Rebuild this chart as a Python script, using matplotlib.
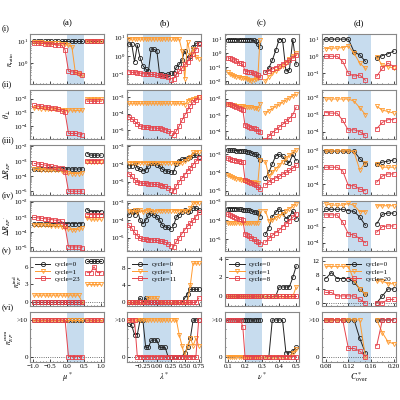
import numpy as np
import matplotlib
matplotlib.use('Agg')
import matplotlib.pyplot as plt
from matplotlib.ticker import MultipleLocator, LogLocator, NullFormatter

plt.rcParams['font.family'] = ['Liberation Serif', 'DejaVu Serif']
plt.rcParams['mathtext.fontset'] = 'stix'

nan = np.nan

# ---------------- x values ----------------
x_a = [-0.95, -0.85, -0.75, -0.65, -0.55, -0.45, -0.35, -0.25, -0.15, -0.05, 0.05, 0.15, 0.25, 0.35, 0.45,
       nan, 0.6, 0.7, 0.8, 0.9, 1.0]
x_b = [-0.5, -0.45, -0.4, -0.35, -0.3, -0.25, -0.2, -0.15, -0.1, -0.05, 0.0, 0.05, 0.1, 0.15, 0.2, 0.25,
       nan, 0.3, 0.35, 0.4, 0.45, 0.5, 0.55, 0.6, 0.65, 0.7, 0.75]
x_c = [0.1, 0.1125, 0.125, 0.1375, 0.15, 0.1625, 0.175, 0.1875, 0.2, 0.2125, 0.225, 0.2375, 0.25, 0.2625, 0.275, 0.2875,
       nan, 0.32, 0.34, 0.36, 0.38, 0.4, 0.42, 0.44, 0.46, 0.48, 0.5]
x_d = [0.08, 0.09, 0.1, 0.11, 0.12, 0.13, 0.14, 0.15, nan, 0.17, 0.18, 0.19, 0.2]

# ---------------- column (a) ----------------
a_i_c0 = [10, 10, 10, 10, 10, 10, 10, 10, 10, 10, 10, 10, 10, 10, 10, nan, 10, 10, 10, 10, 10]
a_i_c1 = [8.5, 8.5, 8.4, 8.3, 8.2, 8, 7.8, 7.6, 7.3, 7, 6.5, 5.5, 0.4, 0.35, 0.3, nan, 10, 10, 10, 10, 10]
a_i_c2 = [8, 7.9, 7.7, 7.5, 7.3, 7, 6.8, 6.5, 6.2, 4, 0.45, 0.42, 0.4, 0.36, 0.3, nan, 10, 10, 10, 10, 10]
a_ii_c0 = [nan] * 21
a_ii_c1 = [2e-3, 2e-3, 1.9e-3, 1.9e-3, 1.8e-3, 1.8e-3, 1.7e-3, 1.7e-3, 1.6e-3, 1.6e-3, 1.5e-3, 1.5e-3, 1.4e-3, 1.4e-3, 1.5e-3,
           nan, 1e-2, 1e-2, 1e-2, 1e-2, 1e-2]
a_ii_c2 = [3.2e-3, 3e-3, 2.8e-3, 2.6e-3, 2.4e-3, 2.2e-3, 2e-3, 1.7e-3, 1.3e-3, 1e-3, 3e-5, 3e-5, 3e-5, 2.8e-5, 2.5e-5,
           nan, 6.5e-3, 6.5e-3, 6.5e-3, 6.5e-3, 6.5e-3]
a_iii_c0 = [3e-4, 3e-4, 3e-4, 3e-4, 3e-4, 3e-4, 3e-4, 3e-4, 3e-4, 3e-4, 3e-4, 3e-4, 3e-4, 3e-4, 3e-4,
            nan, 3.2e-3, 2.5e-3, 2.5e-3, 2.5e-3, 2.5e-3]
a_iii_c1 = [2.8e-4, 2.8e-4, 2.7e-4, 2.7e-4, 2.6e-4, 2.5e-4, 2.5e-4, 2.4e-4, 2.2e-4, 2e-4, 1.6e-4, 1.5e-4, 1.5e-4, 1.5e-4, 1.7e-4,
            nan, 9e-4, 9e-4, 9e-4, 9e-4, 9e-4]
a_iii_c2 = [7e-4, 6.5e-4, 6e-4, 5.5e-4, 5e-4, 4.5e-4, 4e-4, 3.7e-4, 3.3e-4, 2e-4, 1e-5, 1e-5, 1e-5, 1e-5, 1e-5,
            nan, 1.1e-3, 1.1e-3, 1.1e-3, 1.1e-3, 1.1e-3]
a_iv_c0 = [3.5e-4, 3.5e-4, 3.5e-4, 3.5e-4, 3.5e-4, 3.5e-4, 3.5e-4, 3.5e-4, 3.5e-4, 3.5e-4, 3.5e-4, 3.5e-4, 3.5e-4, 3.5e-4, 3.5e-4,
           nan, 3e-3, 2.2e-3, 2.2e-3, 2.2e-3, 2.2e-3]
a_iv_c1 = [3e-4, 3e-4, 2.9e-4, 2.8e-4, 2.7e-4, 2.6e-4, 2.5e-4, 2.4e-4, 2.2e-4, 1.9e-4, 1.5e-4, 1.4e-4, 1.4e-4, 1.5e-4, 1.7e-4,
           nan, 8e-4, 7e-4, 7e-4, 7e-4, 7e-4]
a_iv_c2 = [9e-4, 8.5e-4, 8e-4, 7.5e-4, 7e-4, 6.5e-4, 6e-4, 5.5e-4, 5e-4, 2.3e-4, 1e-5, 1e-5, 1e-5, 1e-5, 9e-6,
           nan, 1.4e-3, 1.4e-3, 1.4e-3, 1.4e-3, 1.4e-3]
a_v_c0 = [0, 0, 0, 0, 0, 0, 0, 0, 0, 0, 0, 0, 0, 0, 0, nan, 7, 7, 7, 7, 7]
a_v_c1 = [1.2, 1.2, 1.2, 1.2, 1.2, 1.2, 1.2, 1.2, 1.2, 1.2, 1.2, 1.2, 1.2, 1.2, 0, nan, 3, 3, 3, 3, 3]
a_v_c2 = [0, 0, 0, 0, 0, 0, 0, 0, 0, 0, 0, 0, 0, 0, 0, nan, 5, 5, 6, 5, 5]
a_vi_c0 = [10, 10, 10, 10, 10, 10, 10, 10, 10, 10, 10, 10, 10, 10, 10, nan, 10, 10, 10, 10, 10]
a_vi_c1 = [10, 10, 10, 10, 10, 10, 10, 10, 10, 10, 10, 10, 10, 10, 10, nan, 10, 10, 10, 10, 10]
a_vi_c2 = [10, 10, 10, 10, 10, 10, 10, 10, 10, 10, 0, 0, 0, 0, 0, nan, 10, 10, 10, 10, 10]

# ---------------- column (b) ----------------
b_i_c0 = [4.5, 4.5, 0.5, 4, 0.8, 0.3, 0.2, 0.15, 2.5, 2.3, 2.0, 0.1, 0.1, 0.09, 0.1, 0.12,
          nan, 0.12, 0.25, 0.35, 0.6, 2.0, 0.8, 1.0, 3.0, 5.0, 5.0]
b_i_c1 = [8.5, 8.5, 8.5, 8.5, 8.5, 8.5, 8.5, 8.5, 8.5, 8.5, 8.5, 8.5, 8.5, 8.5, 8.5, 8.5,
          nan, 8.5, 8.5, 8.5, 2, 0.06, 6, 1.2, 2.5, 0.9, 0.7]
b_i_c2 = [0.14, 0.13, 0.13, 0.12, 0.12, 0.11, 0.11, 0.1, 0.1, 0.1, 0.09, 0.09, 0.08, 0.08, 0.07, 0.05,
          nan, 0.06, 0.1, 0.15, 0.22, 0.35, 0.5, 0.8, 1.3, 2.2, 4.5]
b_ii_c0 = [nan] * 27
b_ii_c1 = [4.3e-4, 4.3e-4, 4.3e-4, 4.3e-4, 4.3e-4, 4.3e-4, 4.3e-4, 4.3e-4, 4.3e-4, 4.3e-4, 4.3e-4, 4.3e-4, 4.3e-4, 4.3e-4, 4.3e-4, 4.3e-4,
           nan, 4.3e-4, 4.3e-4, 4.3e-4, 4.3e-4, 3.5e-4, 6e-4, 7e-4, 8e-4, 9e-4, 1e-3]
b_ii_c2 = [6.5e-5, 5e-5, 3.5e-5, 2.5e-5, 1.8e-5, 1.6e-5, 1.5e-5, 1.5e-5, 1.4e-5, 1.4e-5, 1.3e-5, 1.3e-5, 1.2e-5, 1.1e-5, 9e-6, 7e-6,
           nan, 5e-6, 9e-6, 1.8e-5, 4e-5, 8e-5, 1.6e-4, 3e-4, 5e-4, 7e-4, 1e-3]
b_iii_c0 = [8e-5, 8e-5, 1.2e-4, 6e-5, 5e-5, 4e-5, 4.5e-5, 8e-5, 1.1e-4, 1.1e-4, 9e-5, 8e-5, 5e-5, 4e-5, 4e-5, 3.5e-5,
            nan, 3.5e-5, 1e-4, 1.5e-4, 1.8e-4, 2e-4, 2.2e-4, 2.5e-4, 3e-4, 3e-4, 2.6e-4]
b_iii_c1 = [1.2e-4, 1.2e-4, 1.2e-4, 1.2e-4, 1.2e-4, 1.2e-4, 1.2e-4, 1.2e-4, 1.2e-4, 1.2e-4, 1.2e-4, 1.2e-4, 1.2e-4, 1.2e-4, 1.2e-4, 1.2e-4,
            nan, 1.2e-4, 1.2e-4, 1.2e-4, 1.2e-4, 1.5e-4, 2e-4, 2.5e-4, 4.5e-4, 5e-4, 5e-4]
b_iii_c2 = [2.8e-5, 2e-5, 1.3e-5, 1e-5, 8.5e-6, 8e-6, 8e-6, 7.5e-6, 7.5e-6, 7e-6, 7e-6, 6.5e-6, 6e-6, 5.5e-6, 4.5e-6, 3.5e-6,
            nan, 3e-6, 6e-6, 1e-5, 1.6e-5, 2.5e-5, 4e-5, 6e-5, 9e-5, 1.4e-4, 2.2e-4]
b_iv_c0 = [2e-4, 3.5e-4, 2e-4, 4e-4, 1e-4, 6e-5, 1e-4, 2e-4, 2.5e-4, 2e-4, 1.5e-4, 1e-4, 5e-5, 4e-5, 4e-5, 3e-5,
           nan, 5e-5, 1.5e-4, 2e-4, 3e-4, 4e-4, 3e-4, 3.5e-4, 5e-4, 5e-4, 4e-4]
b_iv_c1 = [3.5e-4, 3e-4, 4e-4, 3e-4, 4e-4, 3e-4, 3.5e-4, 4e-4, 3.5e-4, 3e-4, 3.5e-4, 3.5e-4, 3.5e-4, 3.5e-4, 3.5e-4, 3.5e-4,
           nan, 3.5e-4, 3.5e-4, 3.5e-4, 3.5e-4, 3.5e-4, 3.5e-4, 5e-4, 1e-3, 1e-3, 1e-3]
b_iv_c2 = [5e-5, 3.5e-5, 2e-5, 1.3e-5, 9e-6, 8e-6, 8e-6, 7.5e-6, 7.5e-6, 7e-6, 7e-6, 6.5e-6, 6e-6, 5.5e-6, 4.5e-6, 3.5e-6,
           nan, 3e-6, 6e-6, 1e-5, 1.7e-5, 2.8e-5, 4.5e-5, 7e-5, 1e-4, 1.6e-4, 3e-4]
b_v_c0 = [0, 0, 0, 0, 1, 0, 1, 0, 0, 0, 0, 0, 0, 0, 0, 0, nan, 0, 0, 0, 0, 1, 2, 3, 3, 3, 3]
b_v_c1 = [0, 0, 0, 0, 0, 0, 0, 1, 1, 1, 1, 0, 0, 0, 0, 0, nan, 0, 0, 0, 0, 0, 0, 4, 9, 9, 9]
b_v_c2 = [0, 0, 0, 0, 0, 0, 0, 0, 0, 0, 0, 0, 0, 0, 0, 0, nan, 0, 0, 0, 0, 0, 0, 0, 0, 0, 1]
b_vi_c0 = [9, 8.5, 6, 6, 10, 10, 2.5, 2.5, 4.5, 4.5, 4.5, 2.5, 2.5, 2.5, 0, 0,
           nan, 0, 0, 0, 0, 1, 2.5, 5, 10, 10, 10]
b_vi_c1 = [10, 10, 10, 10, 10, 10, 10, 10, 10, 10, 10, 10, 10, 10, 10, 10,
           nan, 10, 10, 6, 3, 0, 3, 5, 3, 5, 3]
b_vi_c2 = [10, 10, 10, 0, 0, 0, 0, 0, 0, 0, 0, 0, 0, 0, 0, 0, nan, 0, 0, 0, 0, 0, 0, 0, 0, 0, 10]

# ---------------- column (c) ----------------
c_i_c0 = [9, 9, 9, 9, 9, 9, 9, 9, 9, 9, 9, 8.5, 8, 7, 4.5, 2.5,
          nan, 0.04, 0.085, 0.3, 1.5, 9, 9, 0.05, 0.06, 9, 0.15]
c_i_c1 = [0.04, 0.03, 0.025, 0.022, 0.02, 0.018, 0.017, 0.016, 0.015, 0.014, 0.012, 0.01, 0.012, 0.014, 0.015, 8,
          nan, 0.01, 0.02, 0.035, 0.05, 0.08, 0.12, 0.2, 0.35, 0.6, 1.0]
c_i_c2 = [0.45, 0.4, 0.35, 0.3, 0.25, 0.2, 0.18, 0.15, 0.05, 0.045, 0.045, 0.04, 0.035, 0.03, 0.025, 0.018,
          nan, 0.04, 0.05, 0.07, 0.09, 0.12, 0.17, 0.22, 0.3, 0.45, 0.7]
c_ii_c0 = [nan] * 27
c_ii_c1 = [4.5e-3, 4.3e-3, 4e-3, 3.8e-3, 3.6e-3, 3.5e-3, 3.4e-3, 3.3e-3, 3.2e-3, 3.1e-3, 3e-3, 3e-3, 2.8e-3, 2.6e-3, 2.4e-3, 5e-3,
           nan, 1.3e-3, 1.8e-3, 2.5e-3, 3.3e-3, 4.5e-3, 6e-3, 8e-3, 1.1e-2, 1.5e-2, 1.8e-2]
c_ii_c2 = [5e-3, 4.5e-3, 4e-3, 3.5e-3, 3e-3, 2.6e-3, 2.3e-3, 2e-3, 2.3e-4, 2e-4, 1.8e-4, 1.6e-4, 1.5e-4, 1.3e-4, 1.1e-4, 9e-5,
           nan, 3e-5, 5e-5, 8e-5, 1.2e-4, 1.8e-4, 2.6e-4, 4e-4, 6e-4, 1e-3, 3e-3]
c_iii_c0 = [1.7e-3, 1.7e-3, 1.7e-3, 1.7e-3, 1.6e-3, 1.6e-3, 1.6e-3, 1.5e-3, 1.5e-3, 1.4e-3, 1.3e-3, 1.2e-3, 1.1e-3, 1e-3, 8e-4, 5e-4,
            nan, 5e-5, 1e-4, 3e-4, 8e-4, 1e-3, 8e-4, 4e-4, 3.5e-4, 1e-3, 4.5e-4]
c_iii_c1 = [7e-5, 6e-5, 5.5e-5, 5e-5, 4.5e-5, 4.2e-5, 4e-5, 3.8e-5, 3.5e-5, 3.3e-5, 3.1e-5, 3e-5, 2.8e-5, 2.7e-5, 2.5e-5, 5e-4,
            nan, 4e-4, 6e-5, 1e-4, 1.6e-4, 2.5e-4, 4e-4, 6e-4, 9e-4, 1.3e-3, 1.8e-3]
c_iii_c2 = [6e-4, 5.5e-4, 5e-4, 4.8e-4, 4.5e-4, 4.2e-4, 4e-4, 3.8e-4, 4e-5, 3.5e-5, 3e-5, 2.6e-5, 2.2e-5, 1.9e-5, 1.5e-5, 1.2e-5,
            nan, 2e-5, 3e-5, 4e-5, 5e-5, 6e-5, 8e-5, 1e-4, 1.3e-4, 1.7e-4, 2.5e-4]
c_iv_c0 = [4e-4, 4e-4, 4e-4, 4e-4, 4e-4, 3.8e-4, 3.7e-4, 3.5e-4, 3.4e-4, 3.3e-4, 3.2e-4, 3e-4, 2.8e-4, 2.6e-4, 2.3e-4, 1.5e-4,
           nan, 1.8e-5, 4e-5, 1.5e-4, 2.5e-4, 4e-4, 2.5e-4, 1.2e-4, 1.5e-4, 3e-4, 1.2e-4]
c_iv_c1 = [7e-5, 7e-5, 7e-5, 7e-5, 7e-5, 7e-5, 7e-5, 7e-5, 7e-5, 7e-5, 7e-5, 7e-5, 7e-5, 7e-5, 7e-5, 3e-4,
           nan, 3e-4, 9e-5, 1e-4, 1.3e-4, 1.7e-4, 2.2e-4, 3e-4, 4e-4, 5.5e-4, 7e-4]
c_iv_c2 = [2e-4, 1.8e-4, 1.6e-4, 1.5e-4, 1.3e-4, 1.2e-4, 1.1e-4, 1e-4, 1.8e-5, 1.6e-5, 1.4e-5, 1.2e-5, 1e-5, 8e-6, 7e-6, 5.6e-6,
           nan, 7e-6, 1.1e-5, 1.6e-5, 2.2e-5, 3e-5, 4.5e-5, 6.5e-5, 9e-5, 1.4e-4, 2.2e-4]
c_v_c0 = [0, 0, 0, 0, 0, 0, 0, 0, 0, 0, 0, 0, 0, 0, 0, 0, nan, 0, 0, 0, 0, 1, 1, 1, 1, 2, 3.2]
c_v_c1 = [0, 0, 0, 0, 0, 0, 0, 0, 0, 0, 0, 0, 0, 0, 0, 0, nan, 0, 0, 0, 0, 0, 0, 0, 0, 0, 1]
c_v_c2 = [0, 0, 0, 0, 0, 0, 0, 0, 0, 0, 0, 0, 0, 0, 0, 0, nan, 0, 0, 0, 0, 0, 0, 0, 0, 0, 0]
c_vi_c0 = [10, 10, 10, 10, 10, 10, 10, 10, 10, 10, 10, 10, 10, 10, 10, 10, nan, 0, 0, 10, 10, 10, 10, 1, 1, 1.5, 2.5]
c_vi_c1 = [0, 0, 0, 0, 0, 0, 0, 0, 0, 0, 0, 0, 0, 0, 0, 0, nan, 0, 0, 0, 0, 0, 0, 0, 0, 1, 2]
c_vi_c2 = [10, 10, 10, 10, 10, 10, 10, 8, 0, 0, 0, 0, 0, 0, 0, 0, nan, 0, 0, 0, 0, 0, 0, 0, 0, 0, 0]

# ---------------- column (d) ----------------
d_i_c0 = [10, 10, 10, 10, 10, 1.8, 1.2, 0.5, nan, 0.8, 1.1, 1.4, 2]
d_i_c1 = [2.8, 3, 3, 3.2, 4, 1.5, 0.4, 0.2, nan, 0.9, 0.3, 0.25, 0.2]
d_i_c2 = [1, 1, 1, 0.5, 0.1, 0.07, 0.08, 0.04, nan, 0.07, 0.2, 0.4, 0.25]
d_ii_c0 = [nan] * 13
d_ii_c1 = [8e-3, 8e-3, 8e-3, 8e-3, 8e-3, 6e-3, 2.5e-3, 1e-3, nan, 3e-3, 1.8e-3, 1.5e-3, 1.2e-3]
d_ii_c2 = [1.3e-3, 1.2e-3, 1.2e-3, 4.5e-4, 1.2e-4, 1.3e-4, 1e-4, 6e-5, nan, 1.5e-4, 3.5e-4, 5e-4, 5e-4]
d_iii_c0 = [9e-3, 9e-3, 9e-3, 9e-3, 9e-3, 9e-3, 3.2e-3, 1.6e-3, nan, 1.6e-3, 2e-3, 2.3e-3, 2.7e-3]
d_iii_c1 = [9e-3, 9e-3, 9e-3, 9e-3, 9.5e-3, 8e-3, 7e-4, 1.8e-3, nan, 1.5e-3, 1e-3, 1e-3, 1e-3]
d_iii_c2 = [1e-3, 1e-3, 1e-3, 6e-4, 8e-5, 8e-5, 5e-5, 4e-5, nan, 1.3e-4, 3e-4, 4e-4, 4e-4]
d_iv_c0 = [1.2e-2, 1.2e-2, 1.2e-2, 1.2e-2, 1e-2, 9e-3, 4e-3, 1.2e-3, nan, 1.5e-3, 6e-3, 7e-3, 7e-3]
d_iv_c1 = [2.6e-2, 2.2e-2, 2.2e-2, 2.2e-2, 2.8e-2, 2.1e-2, 8.7e-3, 8.7e-3, nan, 2e-2, 2e-2, 2e-2, 2e-2]
d_iv_c2 = [5.4e-3, 5.4e-3, 5.4e-3, 1.9e-3, 3.5e-4, 3e-4, 1.8e-4, 1e-4, nan, 4.5e-4, 1e-3, 1.1e-3, 1.1e-3]
d_v_c0 = [7, 8.7, 7, 7, 7, 6, 4, 2.5, nan, 0, 2, 4, 4]
d_v_c1 = [10.5, 10.5, 10.5, 10.5, 10.5, 6.5, 4, 2.5, nan, 6.3, 6.3, 5.5, 5.5]
d_v_c2 = [3, 3, 2, 2, 2, 2, 1, 0, nan, 0, 0, 1, 1]
d_vi_c0 = [10, 10, 10, 10, 10, 10, 5, 1, nan, 10, 10, 10, 10]
d_vi_c1 = [10, 10, 10, 10, 10, 10, 10, 0, nan, 10, 6.5, 4, 3.5]
d_vi_c2 = [10, 10, 10, 10, 2.2, 2.2, 1.5, 0, nan, 3, 10, 10, 10]

# ---------------- text ----------------
col_titles = ['(a)', '(b)', '(c)', '(d)']
row_labels = ['(i)', '(ii)', '(iii)', '(iv)', '(v)', '(vi)']
y_labels = [r'$n_{\rm ratio}$', r'$\theta_{\perp}$', r'$\Delta R_{EP}$', r"$\Delta R_{EP'}$",
            r'$n_{EP}^{\rm ind}$', r'$n_{EP}^{\rm cum}$']
x_labels = [r'$\mu^*$', r'$\lambda^*$', r'$\nu^*$', r'$C^*_{\rm over}$']
legend_cycles = [['cycle=0', 'cycle=1', 'cycle=23'],
                 ['cycle=0', 'cycle=1', 'cycle=11'],
                 ['cycle=0', 'cycle=1', 'cycle=8'],
                 ['cycle=0', 'cycle=1', 'cycle=20']]

xs = [x_a, x_b, x_c, x_d]
data = {
    0: [[a_i_c0, a_i_c1, a_i_c2], [b_i_c0, b_i_c1, b_i_c2], [c_i_c0, c_i_c1, c_i_c2], [d_i_c0, d_i_c1, d_i_c2]],
    1: [[a_ii_c0, a_ii_c1, a_ii_c2], [b_ii_c0, b_ii_c1, b_ii_c2], [c_ii_c0, c_ii_c1, c_ii_c2], [d_ii_c0, d_ii_c1, d_ii_c2]],
    2: [[a_iii_c0, a_iii_c1, a_iii_c2], [b_iii_c0, b_iii_c1, b_iii_c2], [c_iii_c0, c_iii_c1, c_iii_c2], [d_iii_c0, d_iii_c1, d_iii_c2]],
    3: [[a_iv_c0, a_iv_c1, a_iv_c2], [b_iv_c0, b_iv_c1, b_iv_c2], [c_iv_c0, c_iv_c1, c_iv_c2], [d_iv_c0, d_iv_c1, d_iv_c2]],
    4: [[a_v_c0, a_v_c1, a_v_c2], [b_v_c0, b_v_c1, b_v_c2], [c_v_c0, c_v_c1, c_v_c2], [d_v_c0, d_v_c1, d_v_c2]],
    5: [[a_vi_c0, a_vi_c1, a_vi_c2], [b_vi_c0, b_vi_c1, b_vi_c2], [c_vi_c0, c_vi_c1, c_vi_c2], [d_vi_c0, d_vi_c1, d_vi_c2]],
}

# ---------------- styling ----------------
colors = ['#222222', '#ff9b30', '#e5434c']
markers = ['o', 'v', 's']
shade = [(0.0, 0.5), (-0.25, 0.25), (0.2, 0.3), (0.12, 0.16)]
xlims = [(-1.08, 1.1), (-0.53, 0.8), (0.08, 0.515), (0.073, 0.204)]
xticks = [[-1.0, -0.5, 0.0, 0.5, 1.0], [-0.25, 0.0, 0.25, 0.5, 0.75], [0.1, 0.2, 0.3, 0.4, 0.5], [0.08, 0.12, 0.16, 0.20]]
xticklabels = [['−1.0', '−0.5', '0.0', '0.5', '1.0'], ['−0.25', '0.00', '0.25', '0.50', '0.75'],
               ['0.1', '0.2', '0.3', '0.4', '0.5'], ['0.08', '0.12', '0.16', '0.20']]
xminor = [0.1, 0.05, 0.02, 0.01]

log_ylims = {
    0: [(10**-0.9, 10**1.3), (10**-1.5, 10**1.2), (10**-2.2, 10**1.35), (10**-1.6, 10**1.3)],
    1: [(10**-4.95, 10**-1.35), (10**-5.55, 10**-2.55), (10**-4.5, 10**-1.45), (10**-4.45, 10**-1.55)],
    2: [(10**-5.25, 10**-1.95), (10**-5.75, 10**-2.95), (10**-5.25, 10**-2.5), (10**-4.65, 10**-1.7)],
    3: [(10**-5.25, 10**-1.95), (10**-5.75, 10**-2.9), (10**-5.6, 10**-3.0), (10**-4.5, 10**-1.4)],
}
lin_ylims = {
    4: [(-0.7, 7.7), (-0.9, 10.5), (-1.05, 4.2), (-1.0, 13.3)],
    5: [(-1.5, 12.1)] * 4,
}
lin_yticks = {4: [[0, 3, 6], [0, 4, 8], [0, 2, 4], [0, 4, 8, 12]]}

fig, axes = plt.subplots(6, 4, figsize=(4, 4), dpi=100)
fig.subplots_adjust(left=0.075, right=0.99, top=0.915, bottom=0.095, wspace=0.31, hspace=0.12)

for r in range(6):
    for c in range(4):
        ax = axes[r, c]
        ax.axvspan(shade[c][0], shade[c][1], color='#c7dcee', lw=0, zorder=0)
        x = np.array(xs[c], dtype=float)
        handles = []
        for s in range(3):
            y = np.array(data[r][c][s], dtype=float)
            h, = ax.plot(x, y, color=colors[s], marker=markers[s], ms=3.0, mfc='none', mew=0.6,
                         lw=0.7, zorder=3 + s)
            handles.append(h)
        ax.set_xlim(*xlims[c])
        ax.set_xticks(xticks[c])
        ax.xaxis.set_minor_locator(MultipleLocator(xminor[c]))
        if r == 5:
            ax.set_xticklabels(xticklabels[c])
            ax.set_xlabel(x_labels[c], fontsize=6, labelpad=1)
        else:
            ax.set_xticklabels([])
        if r <= 3:
            ax.set_yscale('log')
            ax.set_ylim(*log_ylims[r][c])
            ax.yaxis.set_major_locator(LogLocator(base=10, numticks=15))
            ax.yaxis.set_minor_locator(LogLocator(base=10, subs=np.arange(2, 10) * 1.0, numticks=15))
            ax.yaxis.set_minor_formatter(NullFormatter())
        else:
            ax.axhline(0, color='#444444', ls=':', lw=0.6, zorder=1)
            ax.set_ylim(*lin_ylims[r][c])
            if r == 4:
                ax.set_yticks(lin_yticks[4][c])
            else:
                ax.set_yticks([0, 10])
                ax.set_yticklabels(['0', '>10'])
                ax.yaxis.set_minor_locator(MultipleLocator(2.5))
        ax.tick_params(axis='both', which='major', direction='in', length=2, width=0.5, labelsize=5, pad=1.5)
        ax.tick_params(axis='both', which='minor', direction='in', length=1, width=0.4)
        for sp in ax.spines.values():
            sp.set_color('#888888')
            sp.set_linewidth(0.8)
        if c == 0:
            ax.set_ylabel(y_labels[r], fontsize=5.5, labelpad=0.5)
        if r == 0:
            ax.set_title(col_titles[c], fontsize=6.5, pad=6)
        if r == 4:
            ax.legend(handles, legend_cycles[c], loc='upper right' if c == 3 else 'upper left',
                      fontsize=5, frameon=False, handlelength=2.2, handletextpad=0.6,
                      labelspacing=0.2, borderaxespad=0.3)
    pos = axes[r, 0].get_position()
    fig.text(0.004, pos.y1 + 0.014, row_labels[r], fontsize=6, ha='left', va='center')

fig.savefig('out.png', dpi=100)
